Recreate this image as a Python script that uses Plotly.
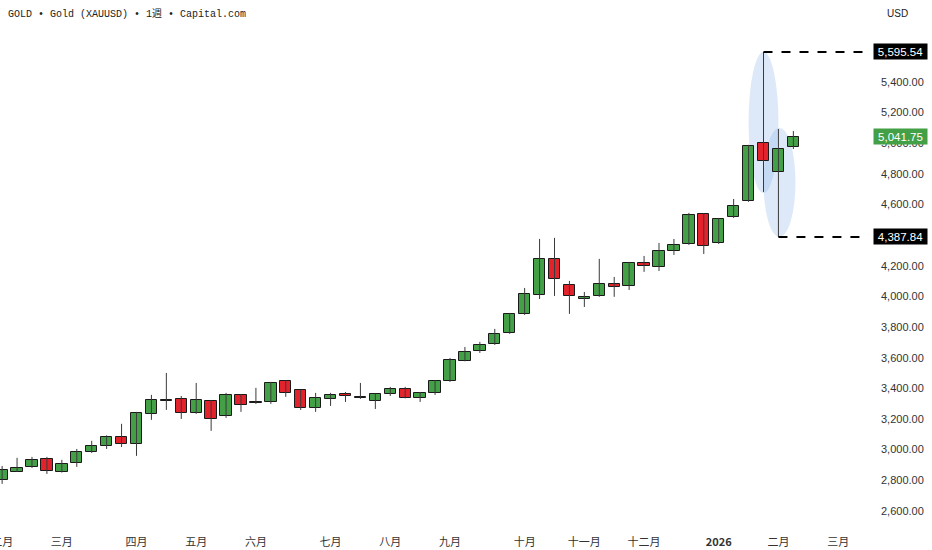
import plotly.graph_objects as go
import pandas as pd

# weekly bars (Monday start), Feb 2025 - Feb 2026
dates = pd.date_range("2025-02-03", periods=54, freq="7D")

opens = [2802, 2856, 2887, 2939, 2854, 2913, 2985, 3024, 3083, 3037,
         3233, 3322, 3331, 3239, 3318, 3220, 3357, 3301, 3311, 3448,
         3389, 3272, 3331, 3363, 3344, 3318, 3363, 3396, 3337, 3370,
         3448, 3579, 3644, 3690, 3762, 3886, 4010, 4245, 4075, 3983,
         4003, 4081, 4068, 4218, 4192, 4297, 4342, 4538, 4349, 4519,
         4623, 5002, 4812, 4976]
highs = [2893, 2946, 2952, 2952, 2933, 3004, 3057, 3093, 3168, 3246,
         3357, 3500, 3350, 3435, 3324, 3370, 3363, 3403, 3442, 3452,
         3392, 3370, 3370, 3376, 3435, 3367, 3409, 3409, 3376, 3454,
         3598, 3670, 3703, 3788, 3892, 4055, 4375, 4382, 4101, 4029,
         4245, 4127, 4225, 4264, 4349, 4375, 4545, 4542, 4512, 4636,
         4989, 5595.54, 5093, 5080]
lows = [2776, 2854, 2880, 2841, 2850, 2887, 2978, 3004, 3017, 2959,
        3194, 3259, 3200, 3233, 3122, 3207, 3246, 3298, 3298, 3344,
        3259, 3246, 3285, 3311, 3331, 3265, 3350, 3334, 3311, 3357,
        3442, 3576, 3631, 3683, 3755, 3879, 3983, 4003, 3886, 3931,
        3997, 3997, 4042, 4160, 4166, 4271, 4336, 4277, 4342, 4512,
        4617, 4682, 4387.84, 4962]
closes = [2867, 2882, 2933, 2861, 2907, 2985, 3024, 3083, 3037, 3239,
          3324, 3319, 3239, 3324, 3200, 3357, 3292, 3308, 3435, 3370,
          3272, 3338, 3357, 3350, 3337, 3363, 3396, 3337, 3370, 3448,
          3585, 3638, 3683, 3755, 3886, 4016, 4245, 4114, 4003, 3997,
          4081, 4062, 4218, 4199, 4297, 4333, 4532, 4329, 4506, 4590,
          4982, 4884, 4962, 5041.75]

month_ticks = ["2025-02-03", "2025-03-03", "2025-04-07", "2025-05-05", "2025-06-02",
               "2025-07-07", "2025-08-04", "2025-09-01", "2025-10-06", "2025-11-03",
               "2025-12-01", "2026-01-05", "2026-02-02", "2026-03-02"]
month_labels = ["二月", "三月", "四月", "五月", "六月", "七月", "八月", "九月",
                "十月", "十一月", "十二月", "<b>2026</b>", "二月", "三月"]

# price scale labels (4,400 and 5,600 sit under the marker labels)
price_ticks = [2600, 2800, 3000, 3200, 3400, 3600, 3800, 4000, 4200,
               4600, 4800, 5000, 5200, 5400]

high_price = 5595.54
low_price = 4387.84
last_price = 5041.75

GREEN = "#43a047"
RED = "#e3232b"

fig = go.Figure()

# wicks
wx, wy = [], []
for d, h, l in zip(dates, highs, lows):
    wx += [d, d, None]
    wy += [l, h, None]
fig.add_trace(go.Scatter(x=wx, y=wy, mode="lines", line=dict(color="#3a3a3a", width=1),
                         hoverinfo="skip", showlegend=False))

# bodies
bases = [min(o, c) for o, c in zip(opens, closes)]
heights = [max(abs(c - o), 1) for o, c in zip(opens, closes)]
colors = [GREEN if c >= o else RED for o, c in zip(opens, closes)]
fig.add_trace(go.Bar(x=dates, y=heights, base=bases, width=5.3 * 86400000,
                     marker=dict(color=colors, line=dict(color="#1a1a1a", width=1)),
                     hoverinfo="skip", showlegend=False))

# highlight ellipses around the spike bars
fig.add_shape(type="circle", xref="x", yref="y", layer="below",
              x0="2026-01-19", x1="2026-02-02", y0=4675, y1=5595,
              fillcolor="rgba(130,175,232,0.27)", line=dict(width=0))
fig.add_shape(type="circle", xref="x", yref="y", layer="below",
              x0="2026-01-26", x1="2026-02-10", y0=4388, y1=5100,
              fillcolor="rgba(130,175,232,0.27)", line=dict(width=0))

# dashed lines to high / low
fig.add_shape(type="line", xref="x", yref="y", x0="2026-01-26", x1="2026-03-20",
              y0=high_price, y1=high_price, line=dict(color="black", width=2, dash="dash"))
fig.add_shape(type="line", xref="x", yref="y", x0="2026-02-02", x1="2026-03-20",
              y0=low_price, y1=low_price, line=dict(color="black", width=2, dash="dash"))

for price, bg in [(high_price, "black"), (low_price, "black"), (last_price, GREEN)]:
    fig.add_annotation(xref="paper", yref="y", x=1, y=price, xanchor="left", xshift=5,
                       text=f"{price:,.2f}", showarrow=False, bgcolor=bg,
                       width=51, height=13, borderpad=1, align="center",
                       font=dict(color="white", size=11.5, family="Liberation Sans"))

fig.add_annotation(xref="paper", yref="paper", x=0, y=1, xanchor="left", yanchor="middle",
                   xshift=6, yshift=16, showarrow=False,
                   text="GOLD • Gold (XAUUSD) • 1週 • Capital.com",
                   font=dict(size=10, color="#222", family="Liberation Mono, Noto Sans CJK JP"))
fig.add_annotation(xref="paper", yref="paper", x=1, y=1, xanchor="left", yanchor="middle",
                   xshift=17, yshift=17, showarrow=False, text="USD",
                   font=dict(size=10, color="#222", family="Liberation Sans"))

fig.update_layout(
    width=932, height=550,
    margin=dict(l=0, r=64, t=30, b=22),
    paper_bgcolor="white", plot_bgcolor="white",
    bargap=0,
    xaxis=dict(range=["2025-02-02", "2026-03-16"], automargin=False,
               showgrid=False, zeroline=False, showline=False, ticks="",
               tickvals=month_ticks, ticktext=month_labels,
               ticklabeloverflow="allow", ticklabelstandoff=6,
               tickfont=dict(family="Noto Sans CJK SC", size=11, color="#333")),
    yaxis=dict(side="right", range=[2488, 5739], tickvals=price_ticks, automargin=False,
               tickformat=",.2f", showgrid=False, zeroline=False, showline=False,
               ticks="", ticklabelstandoff=12,
               tickfont=dict(family="Liberation Sans", size=11, color="#333")),
)

# page body has a default margin; drop it so the figure fills the window
fig.write_html("out.html", config={"displayModeBar": False},
               post_script="document.body.style.margin='0';")
